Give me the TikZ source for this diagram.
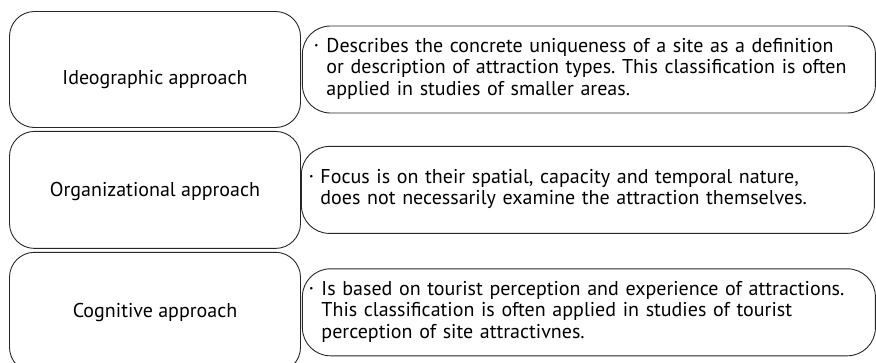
\documentclass[tikz,border=0pt]{standalone}
\usepackage{fontspec}
\setmainfont{PT Sans}
\usetikzlibrary{positioning}
\newcommand\boxfont{\fontsize{20}{21.5}\selectfont}
\newcommand\dotmark{\raisebox{3.5pt}{\small\textbullet}}
\frenchspacing

\begin{document}
\begin{tikzpicture}[x=1pt,y=-1pt,
  approach/.style={draw=black!85, line width=0.9pt, rounded corners=25pt,
    minimum width=291pt, inner sep=0pt},
  every label/.style={font=\boxfont},
  note/.style={draw=black!85, line width=0.9pt, rounded corners=28pt,
    minimum height=87pt, text width=573pt-2*#1, inner xsep=#1, align=left,
    font=\boxfont},
  note/.default=10pt]
\useasboundingbox (0,0) rectangle (876,362);

\node[approach, minimum height=116pt,
  label={[yshift=-10pt]center:Ideographic approach}] (ideo) at (155,69.5) {};
\node[approach, minimum height=117pt, below=3pt of ideo,
  label={[yshift=-2pt]center:Organizational approach}] (organ) {};
\node[approach, minimum height=120pt, below=3pt of organ,
  label={center:Cognitive approach}] (cogn) {};

\node[note=12pt, right=1pt of ideo] (ideonote) {%
  \begin{tabular}{@{}l@{\hspace{8pt}}l@{}}
  \dotmark & Describes the concrete uniqueness of a site as a definition\\
   & or description of attraction types. This classification is often\\
   & applied in studies of smaller areas.
  \end{tabular}};
\node[note=8pt, right=0pt of organ] (organnote) {%
  \begin{tabular}{@{}l@{\hspace{7pt}}l@{}}
  \dotmark & Focus is on their spatial, capacity and temporal nature,\\
   & does not necessarily examine the attraction themselves.
  \end{tabular}};
\node[note=7pt, right=1pt of cogn] (cognnote) {%
  \begin{tabular}{@{}l@{\hspace{8pt}}l@{}}
  \dotmark & Is based on tourist perception and experience of attractions.\\
   & This classification is often applied in studies of tourist\\
   & perception of site attractivnes.
  \end{tabular}};
\end{tikzpicture}
\end{document}
